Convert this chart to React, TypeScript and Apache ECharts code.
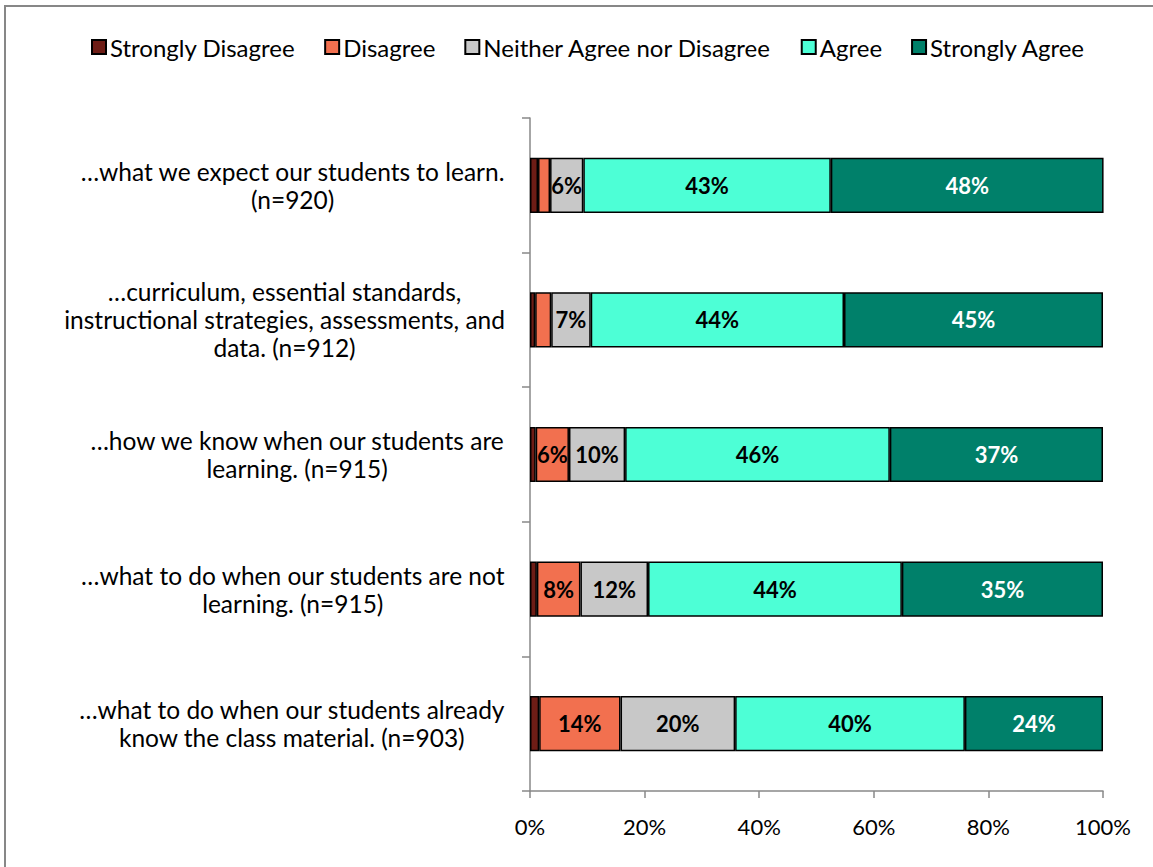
import React, { useEffect, useRef } from "react";
import * as echarts from "echarts";

const categories = [
  "…what we expect our students to learn.\n(n=920)",
  "…curriculum, essential standards,\ninstructional strategies, assessments, and\ndata. (n=912)",
  "…how we know when our students are\nlearning. (n=915)",
  "…what to do when our students are not\nlearning. (n=915)",
  "…what to do when our students already\nknow the class material. (n=903)",
];

const seriesNames = [
  "Strongly Disagree",
  "Disagree",
  "Neither Agree nor Disagree",
  "Agree",
  "Strongly Agree",
];

const stronglyDisagree = [1.4, 0.9, 1.0, 1.2, 1.6];
const disagree = [2.1, 2.8, 5.8, 7.6, 14.2];
const neither = [5.8, 6.9, 9.8, 11.8, 20.0];
const agree = [43.2, 44.2, 46.2, 44.3, 40.1];
const stronglyAgree = [47.6, 45.2, 37.2, 35.1, 24.1];

const xTicks = [0, 20, 40, 60, 80, 100];

const colors = ["#6E1D16", "#F2704F", "#C8C8C8", "#4DFFD6", "#00806A"];
const labelColors = ["#000", "#000", "#000", "#000", "#fff"];

const FONT = "Lato, 'Noto Sans', sans-serif";

export default function App() {
  const ref = useRef<HTMLDivElement>(null);
  useEffect(() => {
    if (!ref.current) return;
    const chart = echarts.init(ref.current, null, { renderer: "svg" });
    const values = [stronglyDisagree, disagree, neither, agree, stronglyAgree];
    chart.setOption({
      animation: false,
      textStyle: { fontFamily: FONT },
      graphic: [
        {
          type: "rect",
          shape: { x: 5, y: 6, width: 1300, height: 1000 },
          style: { fill: "none", stroke: "#878787", lineWidth: 2 },
          silent: true,
        },
      ],
      legend: {
        top: 30,
        left: 86,
        itemWidth: 14,
        itemHeight: 14,
        itemGap: 29,
        icon: "rect",
        textStyle: { fontSize: 24, color: "#000", fontFamily: FONT, padding: [0, 0, 0, -1] },
        data: seriesNames,
      },
      grid: { left: 530, right: 50, top: 118, bottom: 76, containLabel: false },
      xAxis: {
        type: "value",
        min: xTicks[0],
        max: xTicks[xTicks.length - 1],
        interval: 20,
        axisLine: { show: true, lineStyle: { color: "#888", width: 1.5 } },
        axisTick: { show: true, length: 7, lineStyle: { color: "#888", width: 1.5 } },
        splitLine: { show: false },
        axisLabel: {
          formatter: "{value}%",
          fontSize: 22,
          color: "#000",
          margin: 24,
          fontFamily: FONT,
        },
      },
      yAxis: {
        type: "category",
        inverse: true,
        data: categories,
        axisLine: { show: true, lineStyle: { color: "#888", width: 1.5 } },
        axisTick: { show: true, length: 8, lineStyle: { color: "#888", width: 1.5 } },
        axisLabel: {
          margin: 25,
          fontSize: 24,
          color: "#000",
          fontFamily: FONT,
          lineHeight: 28,
          formatter: (v: string) =>
            v
              .split("\n")
              .map((l) => "{c|" + l + "}")
              .join("\n"),
          rich: {
            c: { align: "center", fontSize: 24.5, lineHeight: 28, color: "#000", fontFamily: FONT },
          },
        },
      },
      series: seriesNames.map((name, i) => ({
        name,
        type: "bar",
        stack: "total",
        barWidth: "41%",
        data: values[i],
        itemStyle: { color: colors[i], borderColor: "#000", borderWidth: 1.5 },
        label: {
          show: true,
          position: "inside",
          fontSize: 22,
          fontWeight: "bold",
          color: labelColors[i],
          fontFamily: FONT,
          formatter: (p: any) => (p.value >= 5 ? Math.round(p.value) + "%" : ""),
        },
      })),
    });
    return () => chart.dispose();
  }, []);
  return (
    <div
      ref={ref}
      style={{ position: "fixed", left: 0, top: 0, width: 1153, height: 867, background: "#fff" }}
    />
  );
}
